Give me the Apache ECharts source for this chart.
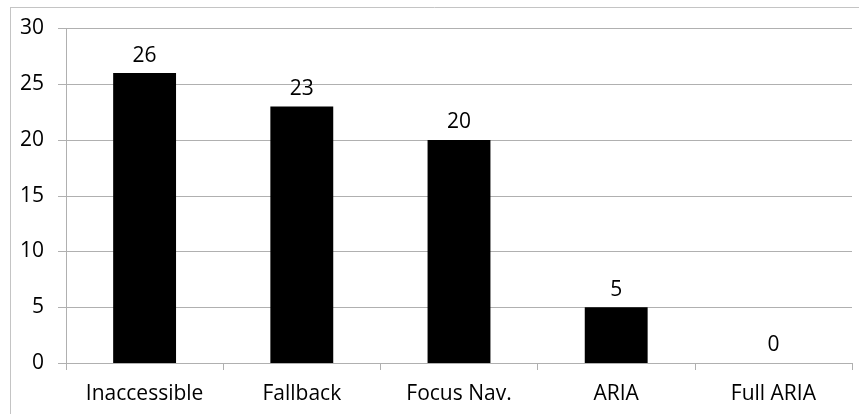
<!DOCTYPE html>
<html>
<head>
<meta charset="utf-8">
<style>
  html, body { margin: 0; padding: 0; background: #fff; }
  #chart { width: 859px; height: 414px; }
</style>
<script src="https://cdn.jsdelivr.net/npm/echarts@6/dist/echarts.min.js"></script>
</head>
<body>
<div id="chart"></div>
<script>
// Categories and counts
const categories = ['Inaccessible', 'Fallback', 'Focus Nav.', 'ARIA', 'Full ARIA'];
const counts = [26, 23, 20, 5, 0];
const yTicks = { min: 0, max: 30, step: 5 };

const FONT = 'Open Sans';
const GRID_GRAY = '#b0b0b0';

const chart = echarts.init(document.getElementById('chart'), null, { renderer: 'canvas' });

chart.setOption({
  backgroundColor: '#ffffff',
  animation: false,
  textStyle: { fontFamily: FONT },
  grid: { left: 66, right: 7, top: 28.5, bottom: 51, containLabel: false },
  graphic: [
    // chart frame (top and left edges)
    { type: 'line', shape: { x1: 10, y1: 7.5, x2: 859, y2: 7.5 }, style: { stroke: '#c4c4c4', lineWidth: 1 } },
    { type: 'line', shape: { x1: 10.5, y1: 7.5, x2: 10.5, y2: 414 }, style: { stroke: '#c4c4c4', lineWidth: 1 } }
  ],
  xAxis: {
    type: 'category',
    data: categories,
    boundaryGap: true,
    axisLine: { show: true, lineStyle: { color: GRID_GRAY, width: 1 } },
    axisTick: { show: true, length: 7, lineStyle: { color: GRID_GRAY } },
    axisLabel: { color: '#000', fontSize: 21, fontFamily: FONT, margin: 21 },
    splitLine: { show: false }
  },
  yAxis: {
    type: 'value',
    min: yTicks.min,
    max: yTicks.max,
    interval: yTicks.step,
    axisLine: { show: true, lineStyle: { color: GRID_GRAY, width: 1 } },
    axisTick: { show: true, length: 8, lineStyle: { color: GRID_GRAY } },
    axisLabel: { color: '#000', fontSize: 21, fontFamily: FONT, margin: 22 },
    splitLine: { show: true, lineStyle: { color: GRID_GRAY, width: 1 } }
  },
  series: [{
    type: 'bar',
    data: counts,
    barCategoryGap: '60%',
    itemStyle: { color: '#000000' },
    label: {
      show: true,
      position: 'top',
      distance: 7,
      color: '#000',
      fontSize: 21,
      fontFamily: FONT
    }
  }]
});
</script>
</body>
</html>
